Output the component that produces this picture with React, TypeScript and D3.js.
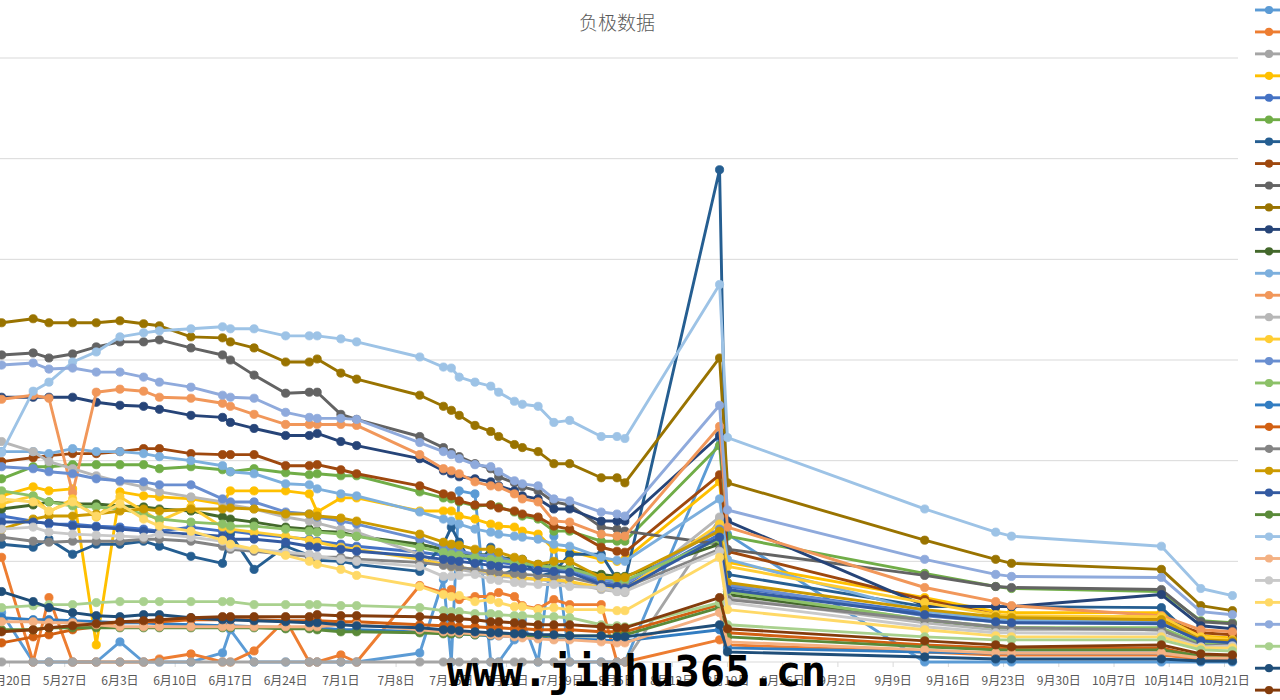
import React from "react";
import * as d3 from "d3";

// Sampling dates shared by every series
const dates = [
  "2019-05-19", "2019-05-23", "2019-05-25", "2019-05-28", "2019-05-31",
  "2019-06-03", "2019-06-06", "2019-06-08", "2019-06-12", "2019-06-16",
  "2019-06-17", "2019-06-20", "2019-06-24", "2019-06-27", "2019-06-28",
  "2019-07-01", "2019-07-03", "2019-07-11", "2019-07-14", "2019-07-15",
  "2019-07-16", "2019-07-18", "2019-07-20", "2019-07-21", "2019-07-23",
  "2019-07-24", "2019-07-26", "2019-07-28", "2019-07-30", "2019-08-03",
  "2019-08-05", "2019-08-06", "2019-08-18", "2019-08-19", "2019-09-13",
  "2019-09-22", "2019-09-24", "2019-10-13", "2019-10-18", "2019-10-22",
];

// Weekly axis ticks
const tickDates = [
  "2019-05-20", "2019-05-27", "2019-06-03", "2019-06-10", "2019-06-17",
  "2019-06-24", "2019-07-01", "2019-07-08", "2019-07-15", "2019-07-22",
  "2019-07-29", "2019-08-05", "2019-08-12", "2019-08-19", "2019-08-26",
  "2019-09-02", "2019-09-09", "2019-09-16", "2019-09-23", "2019-09-30",
  "2019-10-07", "2019-10-14", "2019-10-21",
];
const tickLabels = [
  "5月20日", "5月27日", "6月3日", "6月10日", "6月17日", "6月24日", "7月1日",
  "7月8日", "7月15日", "7月22日", "7月29日", "8月5日", "8月12日", "8月19日",
  "8月26日", "9月2日", "9月9日", "9月16日", "9月23日", "9月30日", "10月7日",
  "10月14日", "10月21日",
];

const valueTicks = [0, 100, 200, 300, 400, 500, 600];

// Series values, one entry per date
const s01 = [49,0,0,0,0,20,0,0,0,9,32,0,0,0,0,0,0,9,82,0,170,167,0,0,22,42,0,125,0,0,0,0,222,127,0,0,0,0,0,0];
const s02 = [104,0,64,0,0,0,0,3,8,0,0,11,42,0,0,7,0,76,69,72,62,65,65,69,65,56,53,62,57,57,0,0,22,17,10,7,7,7,3,4];
const s03 = [0,0,0,0,0,0,0,0,0,0,0,0,0,0,0,0,0,0,0,0,0,0,0,0,0,0,0,0,0,0,0,0,142,70,42,34,34,32,14,17];
const s04 = [165,174,170,172,17,169,165,164,162,157,170,170,170,167,149,163,163,150,150,150,145,142,137,135,134,130,127,112,110,102,100,102,179,99,64,50,49,49,26,24];
const s05 = [145,140,137,137,135,134,132,130,134,130,130,127,124,122,120,117,115,109,106,105,104,102,100,99,97,96,94,92,92,79,77,75,127,75,49,42,41,40,22,20];
const s06 = [182,194,194,196,196,196,196,192,194,191,189,192,188,186,187,185,185,169,163,162,159,155,156,154,149,145,142,130,130,120,120,120,215,125,88,75,73,70,41,39];
const s07 = [117,114,122,107,117,117,120,115,105,98,127,92,115,106,101,100,97,90,117,134,119,92,114,85,92,102,85,89,107,107,82,80,489,87,55,55,55,54,17,23];
const s08 = [199,203,205,207,207,209,212,212,207,206,206,206,195,195,196,191,187,175,167,165,160,156,156,153,150,147,144,135,132,114,110,109,186,110,62,47,45,42,29,27];
const s09 = [305,307,302,306,313,318,318,320,312,305,300,285,267,268,268,246,241,224,213,208,204,197,192,184,178,174,170,159,156,134,132,130,117,112,86,75,74,72,40,38];
const s10 = [337,341,337,337,337,339,336,334,323,322,318,312,298,298,301,287,281,265,254,250,245,235,229,224,216,213,209,197,197,183,183,178,302,178,121,102,98,92,56,51];
const s11 = [263,263,263,263,258,255,254,251,245,243,238,232,225,225,227,219,215,202,190,187,184,182,179,175,170,165,162,152,152,140,140,140,225,140,56,55,55,67,36,33];
const s12 = [152,156,159,157,157,155,154,152,150,144,142,139,134,132,130,129,125,117,112,110,109,107,106,104,102,100,97,95,94,87,85,85,117,67,40,34,34,32,16,15];
const s13 = [209,209,207,212,209,209,207,204,200,195,189,187,177,176,172,167,165,149,142,140,137,132,129,127,125,124,122,117,115,104,101,100,162,102,50,42,41,41,22,20];
const s14 = [261,265,262,168,268,271,269,263,262,257,254,246,236,236,236,236,235,206,192,190,187,179,175,174,167,162,159,140,139,127,125,125,234,134,74,60,56,46,32,30];
const s15 = [219,209,199,192,185,179,174,169,164,159,156,152,144,140,138,132,129,107,97,94,92,89,87,85,84,83,82,80,79,72,70,69,144,64,39,32,32,32,17,17];
const s16 = [157,165,149,162,144,164,150,140,154,134,132,129,125,121,119,114,112,102,97,95,94,92,89,87,85,84,82,82,80,74,72,72,137,95,59,47,46,45,25,22];
const s17 = [194,192,189,187,182,180,179,176,176,162,159,159,149,147,144,140,137,122,114,112,110,107,105,104,100,99,96,94,92,82,80,78,132,77,46,40,39,39,20,18];
const s18 = [170,165,159,155,154,152,147,142,139,137,135,135,132,130,129,127,125,114,109,107,106,104,102,101,99,98,96,94,93,84,82,81,122,70,42,35,34,34,18,17];
const s19 = [44,42,42,41,40,39,39,38,37,36,36,35,34,34,34,32,32,30,29,28,28,27,26,26,25,25,24,23,23,22,21,21,32,14,10,9,9,9,5,5];
const s20 = [19,25,27,32,35,40,40,40,42,42,42,42,41,41,41,40,40,37,36,36,35,35,34,34,33,33,32,32,32,30,30,30,57,29,17,14,14,14,5,5];
const s21 = [124,120,119,120,120,120,122,122,120,115,112,110,107,105,104,104,102,99,96,95,94,92,90,89,88,87,86,85,84,77,75,74,112,62,42,35,34,32,16,17];
const s22 = [132,142,145,145,147,150,152,150,152,152,153,152,147,147,145,143,140,127,119,117,116,112,112,109,104,102,97,100,100,84,84,84,130,79,52,45,44,42,22,21];
const s23 = [139,139,138,135,134,132,130,129,127,125,122,122,119,115,114,112,110,105,102,101,100,98,96,95,94,93,91,90,89,77,75,73,124,72,47,40,39,38,21,19];
const s24 = [32,32,34,34,34,34,34,34,34,34,34,34,33,33,32,30,30,29,28,28,28,27,27,27,26,26,26,26,26,26,26,27,54,25,15,12,12,12,6,6];
const s25 = [208,269,278,298,308,323,327,329,331,333,331,331,324,324,324,321,318,303,293,292,283,278,274,268,259,256,254,238,240,224,224,222,375,223,152,129,125,115,73,66];
const s26 = [40,40,39,39,37,35,35,35,35,35,35,35,35,35,35,37,37,32,30,30,29,28,27,26,25,24,23,22,22,20,19,19,49,20,12,9,9,9,4,4];
const s27 = [132,134,129,127,126,125,124,127,124,120,114,112,109,107,105,102,100,95,85,85,86,87,82,81,79,78,77,77,75,74,70,70,110,59,35,29,29,28,15,16];
const s28 = [162,159,150,159,145,157,142,135,130,121,117,112,106,100,97,92,86,75,67,65,66,60,62,59,55,55,52,54,52,52,51,51,104,52,32,26,25,25,14,14];
const s29 = [295,297,291,292,288,288,283,278,273,265,263,262,248,243,242,242,241,218,209,206,202,196,194,189,180,177,175,162,160,149,147,145,255,151,102,87,85,84,50,47];
const s30 = [54,56,57,57,59,60,60,60,60,60,60,57,57,57,57,56,56,54,51,50,50,48,48,47,46,46,45,45,44,37,36,35,59,37,25,22,22,22,12,11];
const s31 = [70,60,54,49,46,45,47,47,44,42,42,41,40,39,39,37,36,34,32,32,31,30,29,29,28,28,27,27,26,26,25,25,37,10,5,3,3,3,1,1];
const s32 = [30,32,34,36,38,40,41,42,44,45,45,45,45,45,47,46,46,45,44,44,43,42,40,40,39,38,37,37,37,35,34,34,64,33,21,17,15,17,8,7];

const seriesValues = [
  s01, s02, s03, s04, s05, s06, s07, s08, s09, s10, s11, s12, s13, s14, s15, s16,
  s17, s18, s19, s20, s21, s22, s23, s24, s25, s26, s27, s28, s29, s30, s31, s32,
];

const palette = [
  "#5B9BD5", "#ED7D31", "#A5A5A5", "#FFC000", "#4472C4", "#70AD47",
  "#255E91", "#9E480E", "#636363", "#997300", "#264478", "#43682B",
  "#7CAFDD", "#F1975A", "#B7B7B7", "#FFCD33", "#698ED0", "#8CC168",
  "#327DC2", "#D26012", "#848484", "#CC9A00", "#335AA1", "#5A8A39",
  "#9DC3E6", "#F4B183", "#C9C9C9", "#FFD966", "#8FAADC", "#A9D18E",
  "#1F4E79", "#843C0C",
];

const W = 1280;
const H = 700;
const plotLeft = 0;
const plotRight = 1238;
const plotTop = 58;
const plotBottom = 662;

const parse = d3.timeParse("%Y-%m-%d");

export default function App() {
  const x = d3
    .scaleTime()
    .domain([parse("2019-05-20")!, parse("2019-10-21")!])
    .range([9.5, 1224.5]);
  const y = d3.scaleLinear().domain([0, 600]).range([plotBottom, plotTop]);

  const parsedDates = dates.map((d) => parse(d)!);

  const line = d3
    .line<number>()
    .x((_, i) => x(parsedDates[i]))
    .y((v) => y(v));

  const labelFont = "'Noto Sans CJK SC', 'Noto Sans', sans-serif";

  return (
    <svg
      width={W}
      height={H}
      viewBox={`0 0 ${W} ${H}`}
      style={{ position: "absolute", left: 0, top: 0, background: "#fff" }}
    >
      <rect x={0} y={0} width={W} height={H} fill="#ffffff" />

      {/* horizontal gridlines */}
      {valueTicks.map((t) => (
        <line
          key={`g${t}`}
          x1={plotLeft}
          x2={plotRight}
          y1={y(t)}
          y2={y(t)}
          stroke="#d9d9d9"
          strokeWidth={1}
        />
      ))}

      {/* tick marks under the axis */}
      {tickDates.map((d) => {
        const tx = x(parse(d)!);
        return (
          <line
            key={`t${d}`}
            x1={tx}
            x2={tx}
            y1={plotBottom}
            y2={plotBottom + 5}
            stroke="#d9d9d9"
            strokeWidth={1}
          />
        );
      })}

      {/* series */}
      {seriesValues.map((vals, si) => (
        <g key={`s${si}`}>
          <path
            d={line(vals) ?? ""}
            fill="none"
            stroke={palette[si]}
            strokeWidth={2.9}
            strokeLinejoin="round"
            strokeLinecap="round"
          />
          {vals.map((v, i) => (
            <circle
              key={i}
              cx={x(parsedDates[i])}
              cy={y(v)}
              r={4.1}
              fill={palette[si]}
              stroke={palette[si]}
              strokeWidth={0.8}
            />
          ))}
        </g>
      ))}

      {/* axis labels */}
      {tickDates.map((d, i) => (
        <text
          key={`l${d}`}
          x={x(parse(d)!)}
          y={685}
          textAnchor="middle"
          fontSize={12}
          fill="#595959"
          fontFamily={labelFont}
        >
          {tickLabels[i]}
        </text>
      ))}

      {/* legend keys */}
      {palette.map((c, i) => {
        const ly = 10 + i * 21.94;
        return (
          <g key={`lg${i}`}>
            <line x1={1255} x2={1284} y1={ly} y2={ly} stroke={c} strokeWidth={2.9} />
            <circle cx={1269} cy={ly} r={4.1} fill={c} />
          </g>
        );
      })}

      {/* title */}
      <text
        x={617}
        y={30}
        textAnchor="middle"
        fontSize={19}
        fontWeight={300}
        fill="#595959"
        fontFamily={labelFont}
      >
        负极数据
      </text>

      {/* site mark */}
      <text
        x={447}
        y={686}
        fontSize={42}
        fontWeight="bold"
        fill="#000000"
        fontFamily="'DejaVu Sans Mono', 'Liberation Mono', monospace"
      >
        www.jinhu365.cn
      </text>
    </svg>
  );
}
